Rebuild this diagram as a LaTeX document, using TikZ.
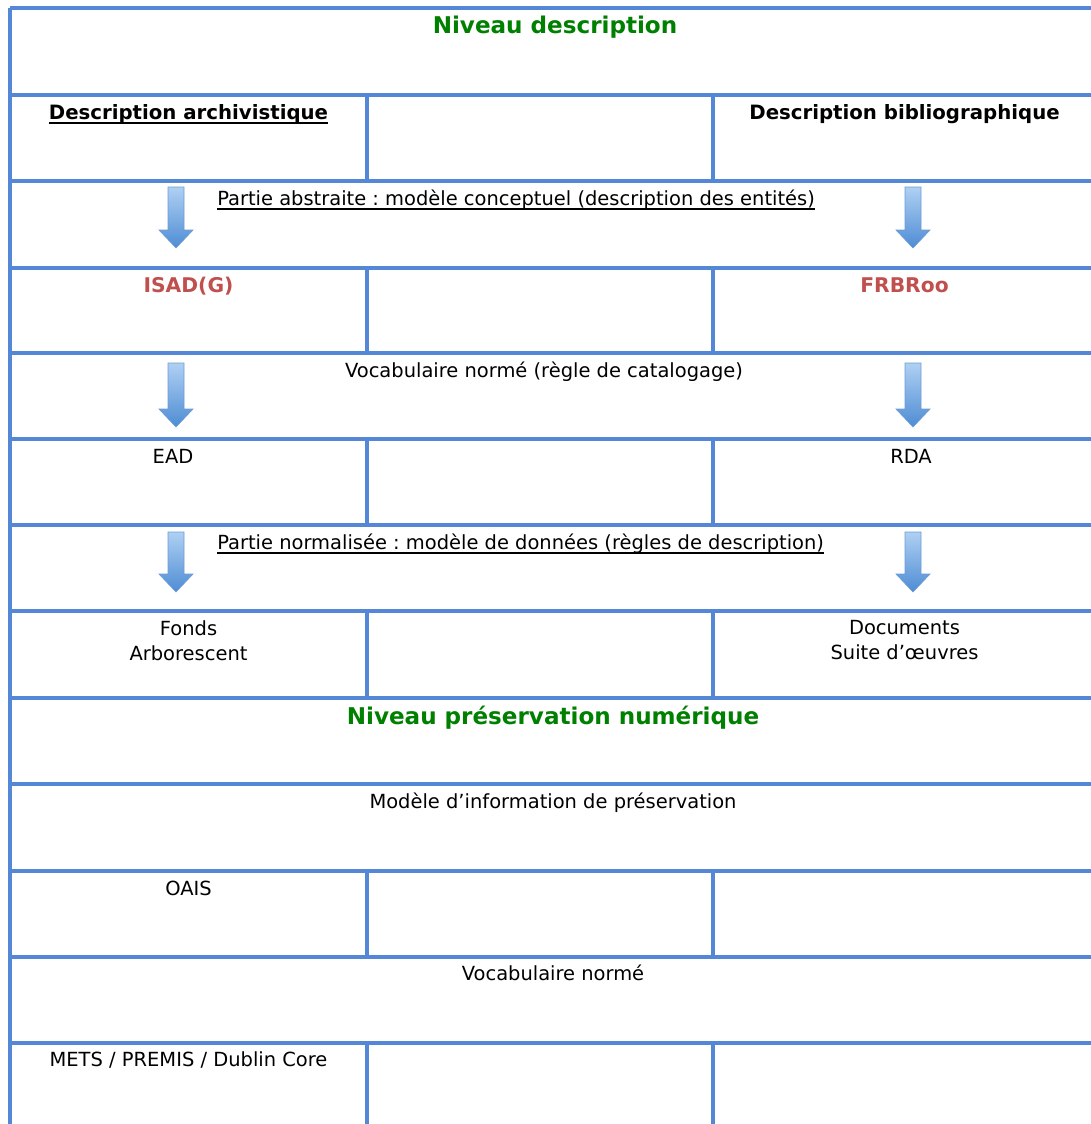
\documentclass[tikz,border=0pt]{standalone}
\usepackage{fontspec}
\setmainfont{DejaVu Sans}
\usepackage{tikz}
\usepackage{xcolor}
\frenchspacing

\definecolor{gridblue}{RGB}{84,136,215}
\definecolor{titlegreen}{RGB}{0,128,0}
\definecolor{normred}{RGB}{192,80,77}
\definecolor{arrowlight}{RGB}{175,208,243}
\definecolor{arrowdark}{RGB}{78,140,212}
\definecolor{arrowedge}{RGB}{108,156,212}

% thicker underline, as in the source table
\newcommand{\ulthick}[1]{\setbox0=\hbox{#1}\rlap{\rule[-3.6pt]{\wd0}{1.2pt}}\box0}

\begin{document}
\begin{tikzpicture}[
  x=0.75pt, y=-0.75pt,
  gridline/.style={draw=gridblue, line width=2.5pt},
  cell/.style={anchor=base, inner sep=0pt, font=\fontsize{14.6}{19}\selectfont, text=black},
  head/.style={cell, font=\fontsize{14.8}{19}\selectfont\bfseries},
  title/.style={cell, font=\fontsize{17.3}{21}\selectfont\bfseries, text=titlegreen},
  norm/.style={head, font=\fontsize{15.2}{19}\selectfont\bfseries, text=normred},
  twoline/.style={cell, anchor=north, align=center},
  blockarrow/.style={top color=arrowlight, bottom color=arrowdark, draw=arrowedge, line width=0.5pt}
]
\useasboundingbox (0,0) rectangle (1091,1124);
\clip (0,0) rectangle (1091,1124);

% Grid: rows
\draw[gridline] (10,8) -- (1100,8);
\draw[gridline] (10,95) -- (1100,95);
\draw[gridline] (10,181) -- (1100,181);
\draw[gridline] (10,268) -- (1100,268);
\draw[gridline] (10,353) -- (1100,353);
\draw[gridline] (10,439) -- (1100,439);
\draw[gridline] (10,525) -- (1100,525);
\draw[gridline] (10,611) -- (1100,611);
\draw[gridline] (10,698) -- (1100,698);
\draw[gridline] (10,784) -- (1100,784);
\draw[gridline] (10,871) -- (1100,871);
\draw[gridline] (10,957) -- (1100,957);
\draw[gridline] (10,1043) -- (1100,1043);

% Grid: left border and column splits
\draw[gridline] (10,8) -- (10,1130);
\draw[gridline] (367,95) -- (367,181);
\draw[gridline] (713,95) -- (713,181);
\draw[gridline] (367,268) -- (367,353);
\draw[gridline] (713,268) -- (713,353);
\draw[gridline] (367,439) -- (367,525);
\draw[gridline] (713,439) -- (713,525);
\draw[gridline] (367,611) -- (367,698);
\draw[gridline] (713,611) -- (713,698);
\draw[gridline] (367,871) -- (367,957);
\draw[gridline] (713,871) -- (713,957);
\draw[gridline] (367,1043) -- (367,1130);
\draw[gridline] (713,1043) -- (713,1130);

% Niveau description
\node[title] (title1) at (555,34) {Niveau description};

\node[head] (arch) at (188.5,119) {\ulthick{Description archivistique}};
\node[head] (biblio) at (904.5,119) {Description bibliographique};

\node[cell, anchor=base west] (abstr) at (217,205) {\ulthick{Partie abstraite : modèle conceptuel (description des entités)}};
\draw[blockarrow] (168,187) -- (184,187) -- (184,230) -- (193,230) -- (176,248) -- (159,230) -- (168,230) -- cycle;
\draw[blockarrow] (905,187) -- (921,187) -- (921,230) -- (930,230) -- (913,248) -- (896,230) -- (905,230) -- cycle;

\node[norm] (isad) at (188.5,292) {ISAD(G)};
\node[norm] (frbr) at (904.5,292) {FRBRoo};

\node[cell] (vocab) at (544,377) {Vocabulaire normé (règle de catalogage)};
\draw[blockarrow] (168,363) -- (184,363) -- (184,409) -- (193,409) -- (176,427) -- (159,409) -- (168,409) -- cycle;
\draw[blockarrow] (905,363) -- (921,363) -- (921,409) -- (930,409) -- (913,427) -- (896,409) -- (905,409) -- cycle;

\node[cell] (ead) at (173,463) {EAD};
\node[cell] (rda) at (911,463) {RDA};

\node[cell, anchor=base west] (normal) at (217,549) {\ulthick{Partie normalisée : modèle de données (règles de description)}};
\draw[blockarrow] (168,532) -- (184,532) -- (184,574) -- (193,574) -- (176,592) -- (159,574) -- (168,574) -- cycle;
\draw[blockarrow] (905,532) -- (921,532) -- (921,574) -- (930,574) -- (913,592) -- (896,574) -- (905,574) -- cycle;

\node[twoline] (fonds) at (188.5,620) {Fonds\\Arborescent};
\node[twoline] (docs) at (904.5,620) {Documents\\Suite d’œuvres};

% Niveau preservation numerique
\node[title] (title2) at (553,724) {Niveau préservation numérique};

\node[cell] (infomodel) at (553,808) {Modèle d’information de préservation};
\node[cell] (oais) at (188.5,895) {OAIS};

\node[cell] (vocab2) at (553,980) {Vocabulaire normé};
\node[cell] (mets) at (188.5,1066) {METS / PREMIS / Dublin Core};

\end{tikzpicture}
\end{document}
